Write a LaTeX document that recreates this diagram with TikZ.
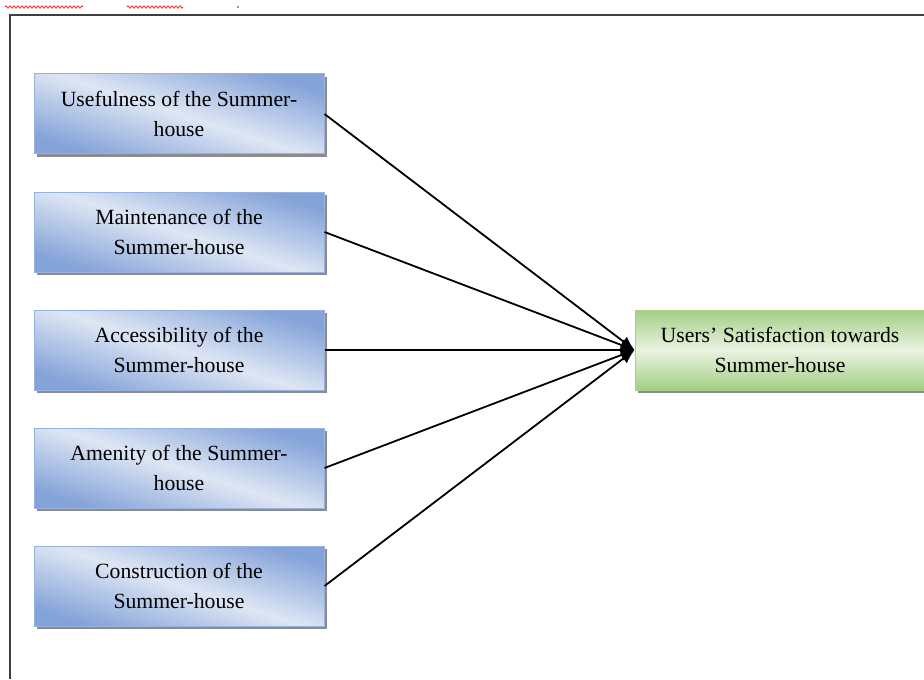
\documentclass[tikz,border=0pt]{standalone}
\usepackage{fontspec}
\setmainfont{Liberation Serif}
\usetikzlibrary{positioning, shadows, arrows.meta, decorations.pathmorphing}

\definecolor{boxlight}{RGB}{222,230,244}
\definecolor{boxdark}{RGB}{132,163,216}
\definecolor{boxline}{RGB}{150,178,224}
\definecolor{satlight}{RGB}{234,243,226}
\definecolor{satdark}{RGB}{162,206,130}
\definecolor{satline}{RGB}{170,210,140}

\begin{document}
\begin{tikzpicture}[
    x=0.5pt, y=-0.5pt,
    node distance=59pt,
    on grid,
    every node/.style={font=\fontsize{10.85}{15}\selectfont, align=center},
    factor/.style={minimum width=145pt, minimum height=40pt, draw=boxline, line width=0.5pt,
        top color=boxdark, bottom color=boxdark, middle color=boxlight, shading angle=-18,
        drop shadow={shadow xshift=1.5pt, shadow yshift=-1.5pt, fill=black!45, opacity=1}},
    outcome/.style={factor, draw=satline, top color=satdark, bottom color=satdark, middle color=satlight},
    link/.style={line width=0.9pt, -{Latex[length=7pt, width=6pt]}}
]
   \useasboundingbox (0,0) rectangle (924,679);

   % spell-check marks and frame
   \draw[red!85, decorate, decoration={zigzag, segment length=2pt, amplitude=0.6pt}] (5,7) -- (83,7);
   \draw[red!85, decorate, decoration={zigzag, segment length=2pt, amplitude=0.6pt}] (127,7) -- (183,7);
   \fill[black!40] (237,6) rectangle (239,8);
   \draw[line width=1pt, black!75] (10,679) -- (10,15) -- (924,15);

   % Factors
   \node[factor] (use) at (179,114) {Usefulness of the Summer-\\house};
   \node[factor] (maint) [below=of use] {Maintenance of the\\Summer-house};
   \node[factor] (access) [below=of maint] {Accessibility of the\\Summer-house};
   \node[factor] (amen) [below=of access] {Amenity of the Summer-\\house};
   \node[factor] (constr) [below=of amen] {Construction of the\\Summer-house};

   % Outcome
   \node[outcome] (sat) [right=300.5pt of access] {Users' Satisfaction towards\\Summer-house};

   % Links
   \path[link]
   (use.east) edge (sat.west)
   (maint.east) edge (sat.west)
   (access.east) edge (sat.west)
   (amen.east) edge (sat.west)
   (constr.east) edge (sat.west);
\end{tikzpicture}
\end{document}
